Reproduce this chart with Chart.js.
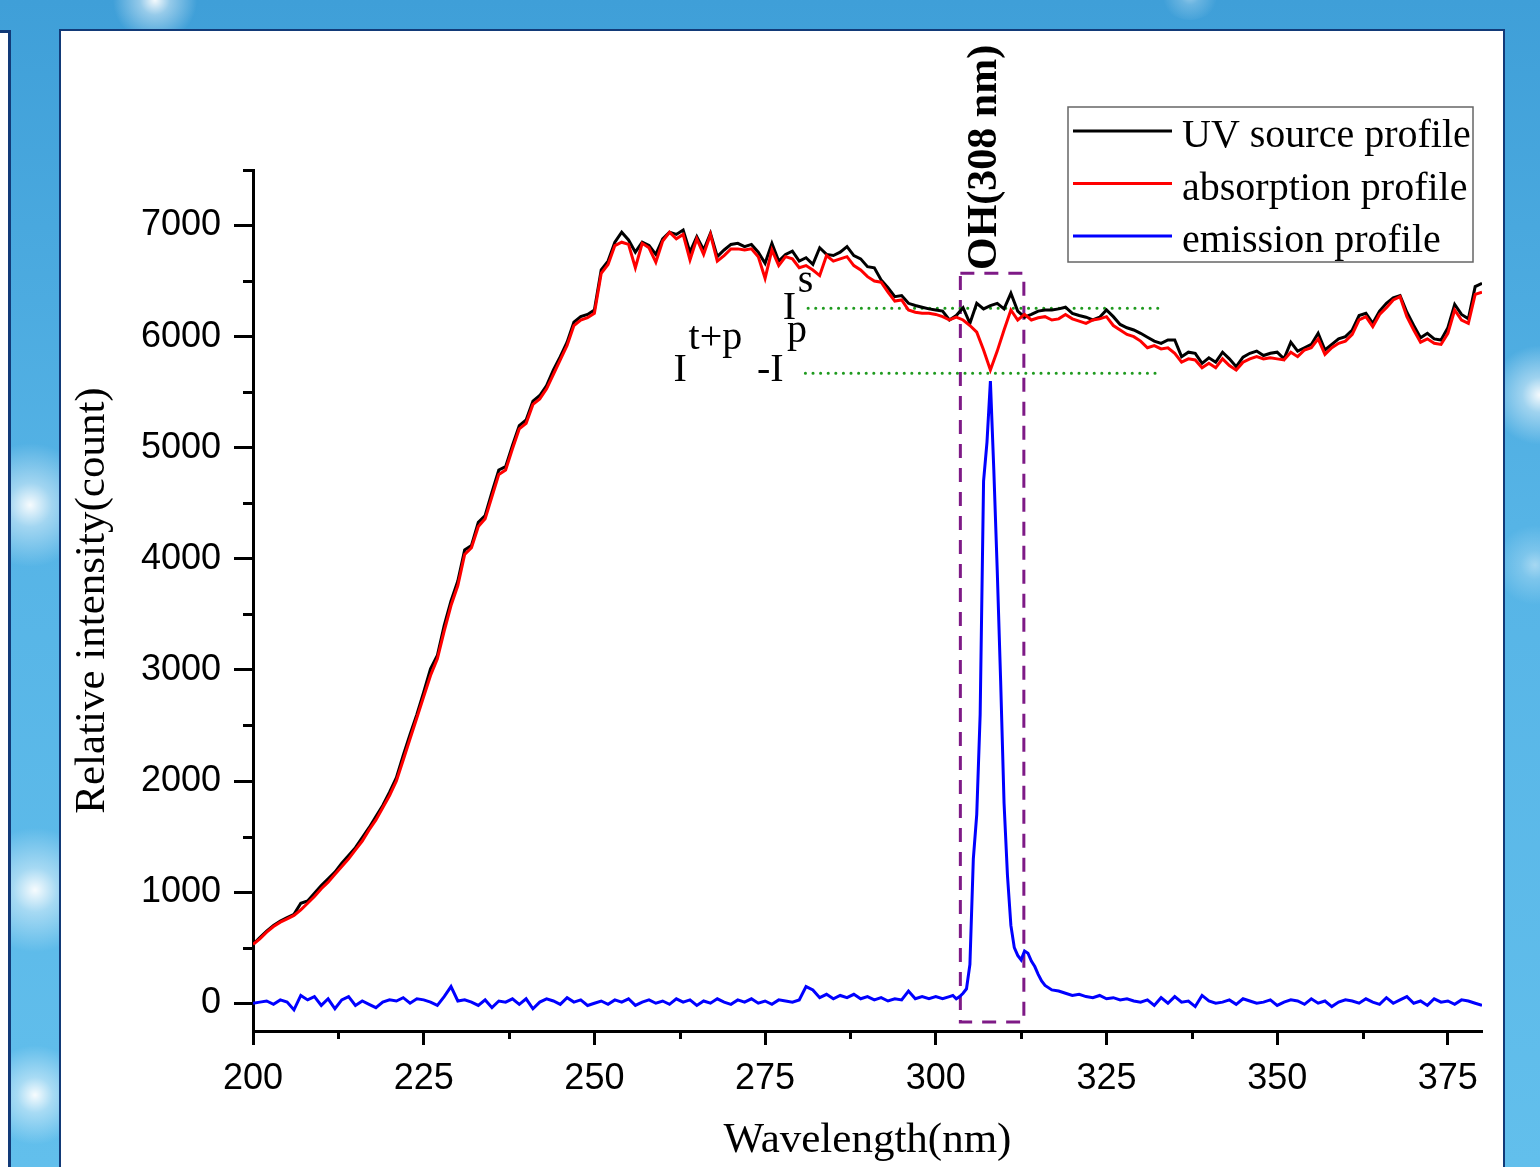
<!DOCTYPE html>
<html>
<head>
<meta charset="utf-8">
<script src="https://cdn.jsdelivr.net/npm/chart.js@4.4.1/dist/chart.umd.min.js"></script>
<style>
  html, body { margin: 0; padding: 0; }
  body {
    width: 1540px; height: 1167px; overflow: hidden; position: relative;
    background: linear-gradient(180deg, #3f9fd8 0%, #56b4e6 45%, #62bfec 100%);
  }
  .glow { position: absolute; border-radius: 50%;
    background: radial-gradient(circle, rgba(255,255,255,0.95) 0%, rgba(255,255,255,0.45) 25%, rgba(255,255,255,0) 70%); }
  #strip { position: absolute; left: 0; top: 30px; width: 8px; height: 1140px; background: #fff;
    border-right: 3px solid #123a78; border-top: 3px solid #123a78; }
  #panel { position: absolute; left: 59px; top: 29px; width: 1442px; height: 1150px; background: #fff;
    border: 2px solid #123a78; }
  #chart { position: absolute; left: 0; top: 0; }
</style>
</head>
<body>
<div class="glow" style="left:110px;top:-40px;width:90px;height:80px"></div>
<div class="glow" style="left:1160px;top:-30px;width:60px;height:50px;opacity:.5"></div>
<div class="glow" style="left:-30px;top:440px;width:120px;height:130px"></div>
<div class="glow" style="left:-20px;top:820px;width:110px;height:140px"></div>
<div class="glow" style="left:-10px;top:1040px;width:90px;height:110px"></div>
<div class="glow" style="left:1495px;top:340px;width:90px;height:110px"></div>
<div class="glow" style="left:1500px;top:520px;width:70px;height:90px;opacity:.5"></div>
<div id="strip"></div>
<div id="panel"></div>
<canvas id="chart" width="1540" height="1167"></canvas>
<script>
// wavelength grid (nm) for the source / absorption spectra
var wavelength = [
  200,201,202,203,204,205,206,207,208,209,
  210,211,212,213,214,215,216,217,218,219,
  220,221,222,223,224,225,226,227,228,229,
  230,231,232,233,234,235,236,237,238,239,
  240,241,242,243,244,245,246,247,248,249,
  250,251,252,253,254,255,256,257,258,259,
  260,261,262,263,264,265,266,267,268,269,
  270,271,272,273,274,275,276,277,278,279,
  280,281,282,283,284,285,286,287,288,289,
  290,291,292,293,294,295,296,297,298,299,
  300,301,302,303,304,305,306,307,308,309,
  310,311,312,313,314,315,316,317,318,319,
  320,321,322,323,324,325,326,327,328,329,
  330,331,332,333,334,335,336,337,338,339,
  340,341,342,343,344,345,346,347,348,349,
  350,351,352,353,354,355,356,357,358,359,
  360,361,362,363,364,365,366,367,368,369,
  370,371,372,373,374,375,376,377,378,379,
  380
];

var sourceProfile = [
  530,590,650,700,740,770,800,900,920,990,
  1060,1120,1180,1260,1330,1400,1490,1580,1680,1780,
  1900,2030,2230,2420,2600,2800,3010,3130,3400,3620,
  3800,4080,4120,4330,4390,4600,4800,4830,5020,5200,
  5250,5420,5470,5560,5700,5820,5950,6130,6180,6200,
  6240,6600,6680,6850,6940,6870,6760,6850,6820,6740,
  6880,6940,6920,6960,6760,6900,6780,6930,6720,6780,
  6830,6840,6810,6830,6760,6660,6840,6680,6740,6770,
  6680,6710,6650,6800,6740,6730,6760,6810,6730,6700,
  6630,6620,6510,6440,6360,6370,6300,6280,6265,6250,
  6240,6230,6150,6190,6260,6120,6300,6250,6280,6300,
  6250,6390,6230,6175,6200,6230,6240,6240,6250,6265,
  6210,6190,6175,6150,6175,6240,6180,6110,6080,6060,
  6030,5995,5960,5940,5970,5970,5820,5860,5850,5760,
  5810,5770,5860,5800,5730,5815,5850,5870,5830,5850,
  5860,5800,5950,5870,5900,5930,6030,5880,5930,5980,
  6000,6060,6190,6210,6120,6230,6300,6350,6370,6220,
  6100,5990,6030,5980,5970,6080,6290,6200,6160,6450,
  6480
];

var absorptionProfile = [
  530,580,640,690,730,760,790,840,900,960,
  1030,1090,1160,1230,1300,1380,1460,1560,1650,1760,
  1870,2000,2190,2380,2570,2760,2950,3100,3350,3580,
  3760,4040,4100,4290,4360,4560,4760,4800,4990,5170,
  5220,5390,5440,5530,5660,5790,5920,6100,6150,6170,
  6210,6570,6650,6820,6850,6830,6620,6840,6800,6670,
  6860,6940,6880,6920,6690,6880,6740,6920,6680,6730,
  6790,6790,6780,6790,6720,6525,6780,6640,6720,6700,
  6620,6640,6600,6550,6730,6680,6700,6720,6640,6600,
  6540,6500,6490,6400,6320,6330,6240,6220,6210,6210,
  6200,6180,6150,6175,6150,6100,6040,5880,5700,5870,
  6060,6240,6150,6200,6150,6170,6180,6150,6160,6200,
  6160,6140,6120,6150,6160,6180,6100,6060,6020,6000,
  5960,5900,5920,5890,5900,5850,5770,5800,5790,5720,
  5760,5720,5800,5740,5700,5770,5800,5820,5800,5810,
  5800,5790,5860,5820,5880,5900,5980,5840,5900,5940,
  5960,6020,6150,6180,6090,6200,6260,6330,6360,6180,
  6060,5950,5980,5940,5930,6030,6240,6150,6120,6380,
  6400
];

// emission spectrum has a finer step around the OH line
var emissionWave = [
  200,201,202,203,204,205,206,207,208,209,
  210,211,212,213,214,215,216,217,218,219,
  220,221,222,223,224,225,226,227,228,229,
  230,231,232,233,234,235,236,237,238,239,
  240,241,242,243,244,245,246,247,248,249,
  250,251,252,253,254,255,256,257,258,259,
  260,261,262,263,264,265,266,267,268,269,
  270,271,272,273,274,275,276,277,278,279,
  280,281,282,283,284,285,286,287,288,289,
  290,291,292,293,294,295,296,297,298,299,
  300,301,302,302.5,303,303.5,304,304.5,305,305.5,
  306,306.5,307,307.5,308,308.5,309,309.5,310,310.5,
  311,311.5,312,312.5,313,313.5,314,314.5,315,315.5,
  316,317,318,319,320,321,322,323,324,325,
  326,327,328,329,330,331,332,333,334,335,
  336,337,338,339,340,341,342,343,344,345,
  346,347,348,349,350,351,352,353,354,355,
  356,357,358,359,360,361,362,363,364,365,
  366,367,368,369,370,371,372,373,374,375,
  376,377,378,379,380
];

var emissionProfile = [
  0,10,20,-10,30,10,-60,70,30,60,
  -20,40,-50,30,60,-20,20,-10,-40,10,
  30,20,50,0,40,30,10,-20,60,150,
  20,30,10,-20,30,-40,20,10,40,-10,
  40,-50,10,40,20,-10,50,10,30,-20,
  0,20,-10,30,10,40,-20,10,30,0,
  20,-10,40,10,30,-20,20,0,40,10,
  -10,30,10,40,0,20,-10,30,20,10,
  30,150,120,50,80,40,70,50,80,40,
  60,30,50,20,40,30,110,40,60,40,
  60,40,60,70,40,60,90,130,350,1300,
  1700,2600,4700,5050,5600,4800,3900,2900,1800,1150,
  700,500,430,390,470,450,380,330,260,200,
  160,120,110,90,70,80,60,50,70,40,
  50,30,40,20,10,30,-20,50,0,60,
  10,20,-30,70,20,0,10,30,-10,40,
  20,0,10,30,-20,10,30,20,-10,40,
  0,20,-30,10,30,20,0,40,10,-10,
  50,0,30,60,0,20,-20,40,10,20,
  -10,30,20,0,-20
];

// axis ticks
var xTicks = [200, 225, 250, 275, 300, 325, 350, 375];
var yTicks = [0, 1000, 2000, 3000, 4000, 5000, 6000, 7000];

// annotation levels (counts) and the OH band (nm)
var levelSource = 6255;
var levelAbsorbed = 5670;
var levelSpan = [281.3, 332.8];
var ohBand = [303.6, 312.9];
var ohBoxRange = [-170, 6570];

var serif = '"Liberation Serif", "Times New Roman", serif';
var sans = '"Liberation Sans", Arial, sans-serif';

function toPoints(xs, ys) {
  return xs.map(function (x, i) { return { x: x, y: ys[i] }; });
}

var extras = {
  id: 'extras',
  afterDraw: function (chart) {
    var ctx = chart.ctx, xs = chart.scales.x, ys = chart.scales.y, area = chart.chartArea;
    ctx.save();
    // minor ticks halfway between the major ones
    ctx.strokeStyle = '#000';
    ctx.lineWidth = 3;
    ctx.beginPath();
    yTicks.forEach(function (v) {
      var py = Math.round(ys.getPixelForValue(v + 500)) + 0.5;
      ctx.moveTo(area.left, py);
      ctx.lineTo(area.left - 10, py);
    });
    xTicks.forEach(function (v) {
      if (v + 12.5 > xs.max) return;
      var px = Math.round(xs.getPixelForValue(v + 12.5)) + 0.5;
      ctx.moveTo(px, area.bottom);
      ctx.lineTo(px, area.bottom + 8);
    });
    ctx.stroke();

    // intensity labels
    ctx.fillStyle = '#000';
    ctx.textBaseline = 'alphabetic';
    ctx.textAlign = 'left';
    ctx.font = '40px ' + serif;
    function put(txt, xv, yv) { ctx.fillText(txt, xs.getPixelForValue(xv), ys.getPixelForValue(yv)); }
    put('I', 277.6, 6160);
    put('s', 279.8, 6400);
    put('I', 261.6, 5600);
    put('t+p', 263.8, 5890);
    put('-I', 273.8, 5600);
    put('p', 278.2, 5950);

    // OH label
    ctx.font = 'bold 42px ' + serif;
    ctx.translate(xs.getPixelForValue(307.3), ys.getPixelForValue(6600));
    ctx.rotate(-Math.PI / 2);
    ctx.textBaseline = 'middle';
    ctx.fillText('OH(308 nm)', 0, 0);
    ctx.restore();

    // legend
    ctx.save();
    var bx = area.right - 414, by = area.top - 63, bw = 405, bh = 155;
    ctx.strokeStyle = '#666';
    ctx.lineWidth = 1.5;
    ctx.strokeRect(bx, by, bw, bh);
    ctx.font = '40px ' + serif;
    ctx.textBaseline = 'alphabetic';
    ctx.fillStyle = '#000';
    for (var i = 0; i < 3; i++) {
      var ds = chart.data.datasets[i];
      var ly = by + 24 + i * 52.5;
      ctx.strokeStyle = ds.borderColor;
      ctx.lineWidth = 3;
      ctx.beginPath();
      ctx.moveTo(bx + 5, ly);
      ctx.lineTo(bx + 104, ly);
      ctx.stroke();
      ctx.fillText(ds.label, bx + 114, ly + 16);
    }
    ctx.restore();
  }
};

new Chart(document.getElementById('chart').getContext('2d'), {
  type: 'line',
  data: {
    datasets: [
      { label: 'UV source profile', data: toPoints(wavelength, sourceProfile),
        borderColor: '#000000', borderWidth: 3, pointRadius: 0, order: 2 },
      { label: 'absorption profile', data: toPoints(wavelength, absorptionProfile),
        borderColor: '#ff0000', borderWidth: 3, pointRadius: 0, order: 1 },
      { label: 'emission profile', data: toPoints(emissionWave, emissionProfile),
        borderColor: '#0000ff', borderWidth: 3, pointRadius: 0, order: 0 },
      { label: 'Is', data: [{ x: levelSpan[0], y: levelSource }, { x: levelSpan[1], y: levelSource }],
        borderColor: '#1e9a1e', borderWidth: 3, borderDash: [0.1, 7.5], borderCapStyle: 'round', pointRadius: 0, order: 3 },
      { label: 'Ip', data: [{ x: levelSpan[0] - 0.4, y: levelAbsorbed }, { x: levelSpan[1] - 0.3, y: levelAbsorbed }],
        borderColor: '#1e9a1e', borderWidth: 3, borderDash: [0.1, 7.5], borderCapStyle: 'round', pointRadius: 0, order: 3 },
      { label: 'OH band', data: [
          { x: ohBand[0], y: ohBoxRange[1] }, { x: ohBand[1], y: ohBoxRange[1] },
          { x: ohBand[1], y: ohBoxRange[0] }, { x: ohBand[0], y: ohBoxRange[0] },
          { x: ohBand[0], y: ohBoxRange[1] }],
        borderColor: '#7e1a86', borderWidth: 3, borderDash: [14, 10], pointRadius: 0, order: 4 }
    ]
  },
  options: {
    responsive: false,
    animation: false,
    layout: { padding: { left: 60, top: 170, right: 58, bottom: 0 } },
    plugins: { legend: { display: false }, tooltip: { enabled: false } },
    scales: {
      x: {
        type: 'linear', min: 200, max: 380,
        afterBuildTicks: function (s) { s.ticks = xTicks.map(function (v) { return { value: v }; }); },
        ticks: { autoSkip: false, maxRotation: 0, color: '#000', padding: 12,
          font: { family: sans, size: 36 }, callback: function (v) { return String(v); } },
        grid: { drawOnChartArea: false, tickLength: 14, tickWidth: 3, tickColor: '#000' },
        border: { color: '#000', width: 3 },
        title: { display: true, text: 'Wavelength(nm)', color: '#000',
          font: { family: serif, size: 43 }, padding: { top: 0, bottom: 0 } },
        afterFit: function (s) { s.height = 136; }
      },
      y: {
        type: 'linear', min: -250, max: 7500,
        afterBuildTicks: function (s) { s.ticks = yTicks.map(function (v) { return { value: v }; }); },
        ticks: { autoSkip: false, color: '#000', padding: 13,
          font: { family: sans, size: 36 }, callback: function (v) { return String(v); } },
        grid: { drawOnChartArea: false, tickLength: 19, tickWidth: 3, tickColor: '#000' },
        border: { color: '#000', width: 3 },
        title: { display: true, text: 'Relative intensity(count)', color: '#000',
          font: { family: serif, size: 43 }, padding: { top: 7, bottom: 0 } },
        afterFit: function (s) { s.width = 193; }
      }
    }
  },
  plugins: [extras]
});
</script>
</body>
</html>
